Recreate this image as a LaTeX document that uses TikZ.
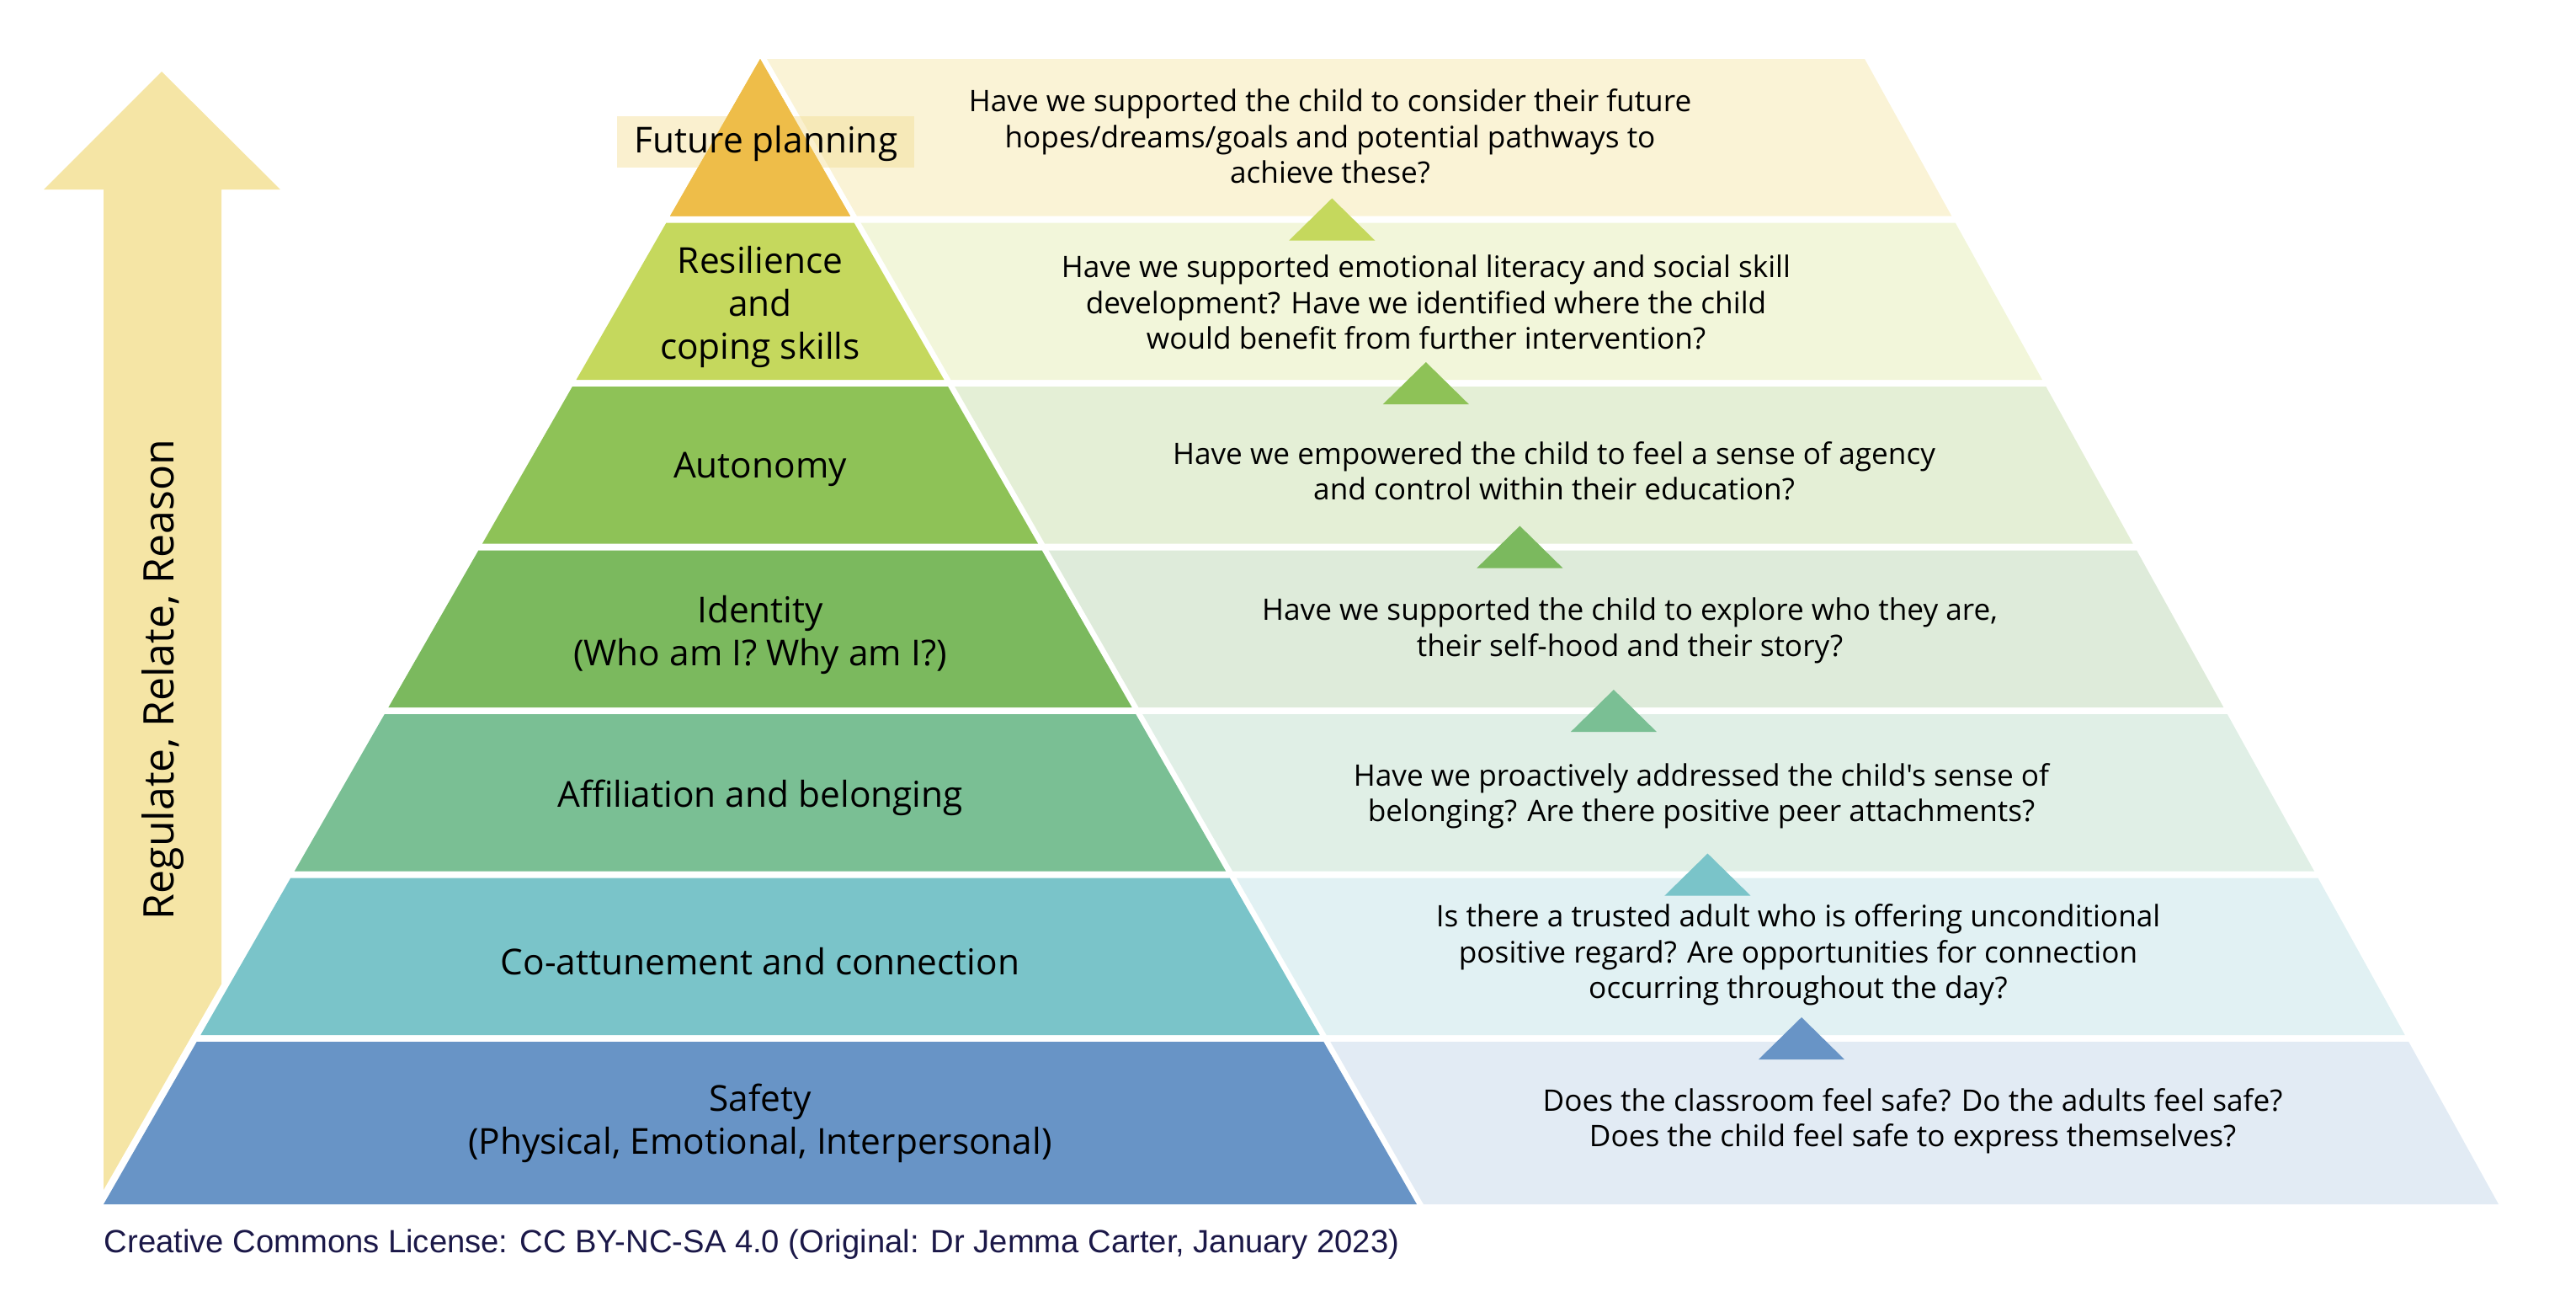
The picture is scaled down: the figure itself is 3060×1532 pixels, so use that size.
\documentclass[tikz,border=0pt]{standalone}
\usepackage{fontspec}
\setmainfont{Open Sans}[Ligatures=TeXOff]
\newfontfamily\footfont{Liberation Sans}
\definecolor{cArrow}{HTML}{F5E5A5}
\definecolor{cT0}{HTML}{EEBD49}
\definecolor{cT1}{HTML}{C5D85D}
\definecolor{cT2}{HTML}{8EC257}
\definecolor{cT3}{HTML}{7BB95E}
\definecolor{cT4}{HTML}{7ABF94}
\definecolor{cT5}{HTML}{7AC4C9}
\definecolor{cT6}{HTML}{6894C6}
\definecolor{cP0}{HTML}{FAF3D6}
\definecolor{cP1}{HTML}{F2F6DA}
\definecolor{cP2}{HTML}{E4EFD6}
\definecolor{cP3}{HTML}{DEEBDA}
\definecolor{cP4}{HTML}{E0EFE6}
\definecolor{cP5}{HTML}{E1F1F3}
\definecolor{cP6}{HTML}{E2EBF4}
\definecolor{cBox}{HTML}{F3DE95}
\definecolor{cFoot}{HTML}{1B1848}
\newcommand\pyrband[4]{%
  \pgfmathsetmacro\dt{0.5735*(#1-70)}%
  \pgfmathsetmacro\db{0.5735*(#2-70)}%
  \pgfmathsetmacro\rt{2215+0.5537*(#1-70)}%
  \pgfmathsetmacro\rb{2215+0.5537*(#2-70)}%
  \fill[#4] ({903+\dt+8},#1) -- (\rt,#1) -- (\rb,#2) -- ({903+\db+8},#2) -- cycle;
  \fill[#3] ({903-\dt},#1) -- ({903+\dt},#1) -- ({903+\db},#2) -- ({903-\db},#2) -- cycle;
}
\newcommand\uptri[2]{%
  \pgfmathsetmacro\cx{903+0.5735*(#1-70)+570}%
  \fill[#2] (\cx,{#1-25}) -- ({\cx+51},{#1+25}) -- ({\cx-51},{#1+25}) -- cycle;
}
\tikzset{
  lab/.style={align=center, font=\fontsize{10.6pt}{12.75pt}\selectfont, text=black, inner sep=0pt},
  qtext/.style={align=center, font=\fontsize{8.8pt}{10.6pt}\selectfont, text=black, inner sep=0pt},
}
\begin{document}
\begin{tikzpicture}[x=0.25pt,y=-0.25pt]
\useasboundingbox (0,0) rectangle (3060,1532);
% arrow
\fill[cArrow] (192,85) -- (333,225) -- (263,225) -- (263,1168.5) -- (123,1413) -- (123,225) -- (52,225) -- cycle;
\node[rotate=90, font=\fontsize{12.5pt}{15pt}\selectfont, inner sep=0pt] (rrr) at (194,807) {Regulate, Relate, Reason};
% bands: panels drawn, then box, then triangles
\pyrband{70}{256.5}{cT0}{cP0}
\pyrband{264.5}{451}{cT1}{cP1}
\pyrband{459}{645.5}{cT2}{cP2}
\pyrband{653.5}{840}{cT3}{cP3}
\pyrband{848}{1034.5}{cT4}{cP4}
\pyrband{1042.5}{1229}{cT5}{cP5}
\pyrband{1237}{1430}{cT6}{cP6}
% future planning box (semi-transparent)
\fill[cBox, opacity=0.45] (733,138) rectangle (1086,199);
\fill[cT0] (903,70) -- ({903+0.5735*186.5},256.5) -- ({903-0.5735*186.5},256.5) -- cycle;
% small up triangles
\uptri{260.5}{cT1}
\uptri{455}{cT2}
\uptri{649.5}{cT3}
\uptri{844}{cT4}
\uptri{1038.5}{cT5}
\uptri{1233}{cT6}
% left labels
\node[lab] (l0) at (910,170) {Future planning};
\node[lab] (l1) at (903,364) {Resilience\\and\\coping skills};
\node[lab] (l2) at (903,557) {Autonomy};
\node[lab] (l3) at (903,754) {Identity\\(Who am I? Why am I?)};
\node[lab] (l4) at (903,947) {Affiliation and belonging};
\node[lab] (l5) at (903,1142) {Co-attunement and connection};
\node[lab] (l6) at (903,1334) {Safety\\(Physical, Emotional, Interpersonal)};
% question texts
\node[qtext] (q0) at (1580,162) {Have we supported the child to consider their future\\hopes/dreams/goals and potential pathways to\\achieve these?};
\node[qtext] (q1) at (1694,359) {Have we supported emotional literacy and social skill\\development? Have we identified where the child\\would benefit from further intervention?};
\node[qtext] (q2) at (1846,559) {Have we empowered the child to feel a sense of agency\\and control within their education?};
\node[qtext] (q3) at (1936,749) {Have we supported the child to explore who they are,\\their self-hood and their story?};
\node[qtext] (q4) at (2021,945) {Have we proactively addressed the child's sense of\\belonging? Are there positive peer attachments?};
\node[qtext] (q5) at (2136,1134) {Is there a trusted adult who is offering unconditional\\positive regard? Are opportunities for connection\\occurring throughout the day?};
\node[qtext] (q6) at (2272,1331) {Does the classroom feel safe? Do the adults feel safe?\\Does the child feel safe to express themselves?};
% footer
\node[anchor=base west, inner sep=0pt, text=cFoot, font=\footfont\fontsize{9.55pt}{11pt}\selectfont] (foot) at (123,1487) {Creative Commons License: CC BY-NC-SA 4.0 (Original: Dr Jemma Carter, January 2023)};
\end{tikzpicture}
\end{document}
